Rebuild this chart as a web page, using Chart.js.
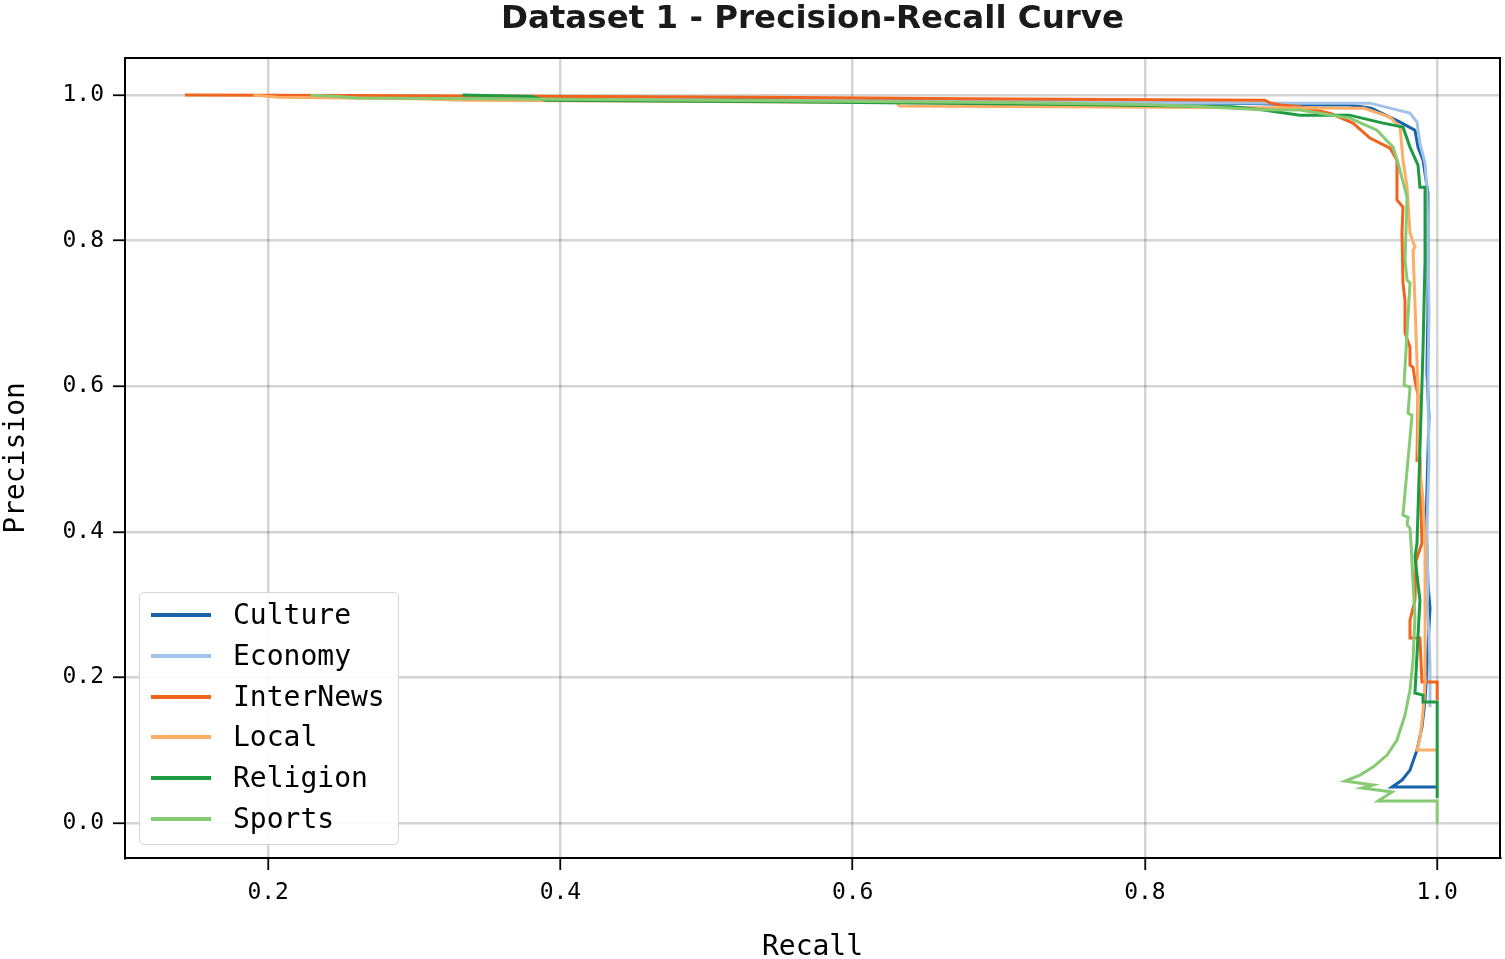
<!DOCTYPE html>
<html><head><meta charset="utf-8">
<script src="https://cdn.jsdelivr.net/npm/chart.js@4/dist/chart.umd.min.js"></script>
<style>
html,body{margin:0;padding:0;background:#fff;}
#wrap{position:relative;width:1505px;height:959px;}
canvas{display:block;}
#legend{position:absolute;left:139px;top:592px;width:258px;height:251px;border:1.5px solid #d4d4d4;border-radius:5px;background:rgba(255,255,255,0.9);font-family:"DejaVu Sans Mono",monospace;font-size:28px;color:#000;}
#legend .item{position:absolute;left:0;width:258px;height:40px;}
#legend .swatch{position:absolute;left:11px;top:18px;width:60px;height:4px;}
#legend .lbl{position:absolute;left:93px;top:0;line-height:40px;white-space:nowrap;}
</style>
</head><body>
<div id="wrap"><canvas id="c" width="1505" height="959"></canvas><div id="legend"></div></div>
<script>
const seriesNames = ["Culture","Economy","InterNews","Local","Religion","Sports"];
const seriesColors = ["#1764ab","#a3c2e8","#f0641e","#fdad65","#1e9b40","#86cb73"];
const xTicks = [0.2,0.4,0.6,0.8,1.0];
const yTicks = [0.0,0.2,0.4,0.6,0.8,1.0];

const cultureRecall    = [0.203,0.22,0.5,0.8,0.88,0.906,0.94,0.955,0.9746,0.9848,0.9869,0.9903,0.9937,0.9937,0.993,0.9944,0.9924,0.9937,0.9951,0.993,0.9917,0.9896,0.9862,0.9814,0.976,0.9691,1.0];
const culturePrecision = [1.0,0.998,0.995,0.99,0.988,0.9863,0.9863,0.982,0.9629,0.9519,0.9286,0.9107,0.8654,0.7047,0.62,0.5577,0.4121,0.33,0.2953,0.2143,0.169,0.1319,0.1003,0.0728,0.0591,0.0495,0.0495];

const economyRecall    = [0.205,0.22,0.4,0.55,0.67,0.8,0.906,0.954,0.9814,0.9862,0.9882,0.9917,0.993,0.9937,0.9944,0.9937,0.9944,0.993,0.9937,0.993,0.9944,0.9951,0.9951];
const economyPrecision = [1.0,0.997,0.995,0.993,0.992,0.99,0.989,0.989,0.9753,0.9629,0.9341,0.9066,0.87,0.8,0.7,0.6,0.5,0.4,0.32,0.2967,0.26,0.217,0.1593];

const interNewsRecall    = [0.143,0.3,0.54,0.677,0.882,0.886,0.893,0.906,0.927,0.9424,0.954,0.9677,0.9725,0.9725,0.9766,0.9759,0.9766,0.978,0.978,0.9814,0.9814,0.9835,0.9848,0.9869,0.9862,0.9882,0.9896,0.9855,0.9848,0.9814,0.9814,0.9882,0.9896,1.0,1.0];
const interNewsPrecision = [1.0,0.999,0.997,0.995,0.993,0.989,0.9863,0.984,0.975,0.9615,0.941,0.9272,0.9107,0.856,0.8462,0.8104,0.7418,0.718,0.6731,0.6538,0.6291,0.626,0.608,0.588,0.4986,0.5,0.3846,0.36,0.3063,0.2788,0.2541,0.2541,0.1937,0.1937,0.169];

const localRecall    = [0.19,0.207,0.3,0.335,0.63,0.632,0.95,0.9677,0.9746,0.9766,0.9794,0.9814,0.9848,0.9835,0.9869,0.9869,0.9903,0.9917,0.9917,0.991,0.9896,0.9882,0.9862,1.0];
const localPrecision = [1.0,0.997,0.995,0.993,0.99,0.985,0.982,0.9698,0.956,0.911,0.8736,0.8104,0.7912,0.787,0.5948,0.512,0.4437,0.3846,0.1964,0.169,0.1387,0.1168,0.1003,0.1003];

const religionRecall    = [0.333,0.38,0.39,0.55,0.75,0.86,0.88,0.906,0.94,0.963,0.9766,0.9814,0.9869,0.9882,0.9917,0.9917,0.9903,0.9882,0.9862,0.9848,0.9882,0.9848,0.9903,0.9903,1.0,1.0];
const religionPrecision = [1.0,0.998,0.993,0.991,0.987,0.984,0.98,0.9725,0.9725,0.9615,0.956,0.9286,0.9038,0.8736,0.8736,0.7734,0.6497,0.5124,0.3846,0.3654,0.3063,0.1786,0.1758,0.1662,0.1662,0.0343];

const sportsRecall    = [0.229,0.248,0.26,0.5,0.7,0.8,0.84,0.88,0.906,0.9403,0.9588,0.9698,0.9732,0.9794,0.978,0.9794,0.9814,0.9773,0.9814,0.9801,0.9828,0.9766,0.9801,0.9794,0.9814,0.9821,0.9835,0.9848,0.9835,0.9814,0.978,0.9725,0.9657,0.9561,0.9472,0.9369,0.9561,0.9486,0.9691,0.9596,1.0,1.0];
const sportsPrecision = [1.0,0.998,0.996,0.993,0.99,0.987,0.984,0.98,0.9794,0.9684,0.9519,0.9286,0.9066,0.8599,0.7734,0.7459,0.7418,0.6016,0.5989,0.5632,0.56,0.4231,0.42,0.41,0.405,0.3846,0.3297,0.283,0.2239,0.1827,0.1484,0.114,0.0934,0.0769,0.0659,0.0577,0.0522,0.0481,0.0426,0.0302,0.0302,0.0];

const recalls = [cultureRecall,economyRecall,interNewsRecall,localRecall,religionRecall,sportsRecall];
const precisions = [culturePrecision,economyPrecision,interNewsPrecision,localPrecision,religionPrecision,sportsPrecision];

const MONO = "'DejaVu Sans Mono', monospace";

const datasets = seriesNames.map((name,i)=>({
  label: name,
  data: recalls[i].map((r,j)=>({x:r,y:precisions[i][j]})),
  borderColor: seriesColors[i],
  backgroundColor: seriesColors[i],
  borderWidth: 3,
  pointRadius: 0,
  tension: 0,
  fill: false,
  order: seriesNames.length - i
}));

const framePlugin = {
  id:'frame',
  afterDraw(chart){
    const a = chart.chartArea, ctx = chart.ctx;
    ctx.save();
    ctx.strokeStyle = '#000';
    ctx.lineWidth = 2;
    ctx.strokeRect(a.left, a.top, a.right-a.left, a.bottom-a.top);
    ctx.restore();
  }
};

const chart = new Chart(document.getElementById('c'), {
  type: 'line',
  data: { datasets },
  options: {
    responsive: false,
    animation: false,
    events: [],
    layout: { padding: { left: 0, right: 5, top: 0, bottom: 0 } },
    plugins: {
      legend: { display: false },
      tooltip: { enabled: false },
      title: {
        display: true,
        text: 'Dataset 1 - Precision-Recall Curve',
        fullSize: false,
        color: '#1a1a1a',
        font: { family: "'DejaVu Sans', sans-serif", weight: 'bold', size: 32.5, lineHeight: 1.2 },
        padding: { top: 0, bottom: 19 }
      }
    },
    scales: {
      x: {
        type: 'linear',
        min: 0.102, max: 1.043,
        afterBuildTicks: s => { s.ticks = xTicks.map(v=>({value:v})); },
        afterFit: s => { s.height = 101; },
        ticks: { callback: v => v.toFixed(1), font: { family: MONO, size: 23 }, color: '#000', padding: 9, maxRotation: 0 },
        grid: { color: 'rgba(0,0,0,0.17)', lineWidth: 2.5, tickColor: '#000', tickLength: 12, tickWidth: 1.8 },
        border: { color: '#000', width: 2 },
        title: { display: true, text: 'Recall', color: '#000', font: { family: MONO, size: 28, lineHeight: 0.8 }, padding: { top: 0, bottom: 0 } }
      },
      y: {
        type: 'linear',
        min: -0.048, max: 1.051,
        afterBuildTicks: s => { s.ticks = yTicks.map(v=>({value:v})); },
        afterFit: s => { s.width = 125; },
        ticks: { callback: v => v.toFixed(1), font: { family: MONO, size: 23 }, color: '#000', padding: 9 },
        grid: { color: 'rgba(0,0,0,0.17)', lineWidth: 2.5, tickColor: '#000', tickLength: 12, tickWidth: 1.8 },
        border: { color: '#000', width: 2 },
        title: { display: true, text: 'Precision', color: '#000', font: { family: MONO, size: 28, lineHeight: 1.2 }, padding: { top: 0, bottom: 0 } }
      }
    }
  },
  plugins: [framePlugin]
});

const leg = document.getElementById('legend');
chart.data.datasets.forEach((ds,i)=>{
  const it = document.createElement('div');
  it.className = 'item';
  it.style.top = (2 + i*40.8) + 'px';
  const sw = document.createElement('div');
  sw.className = 'swatch';
  sw.style.background = ds.borderColor;
  const lb = document.createElement('div');
  lb.className = 'lbl';
  lb.textContent = ds.label;
  it.appendChild(sw); it.appendChild(lb);
  leg.appendChild(it);
});
</script>
</body></html>
